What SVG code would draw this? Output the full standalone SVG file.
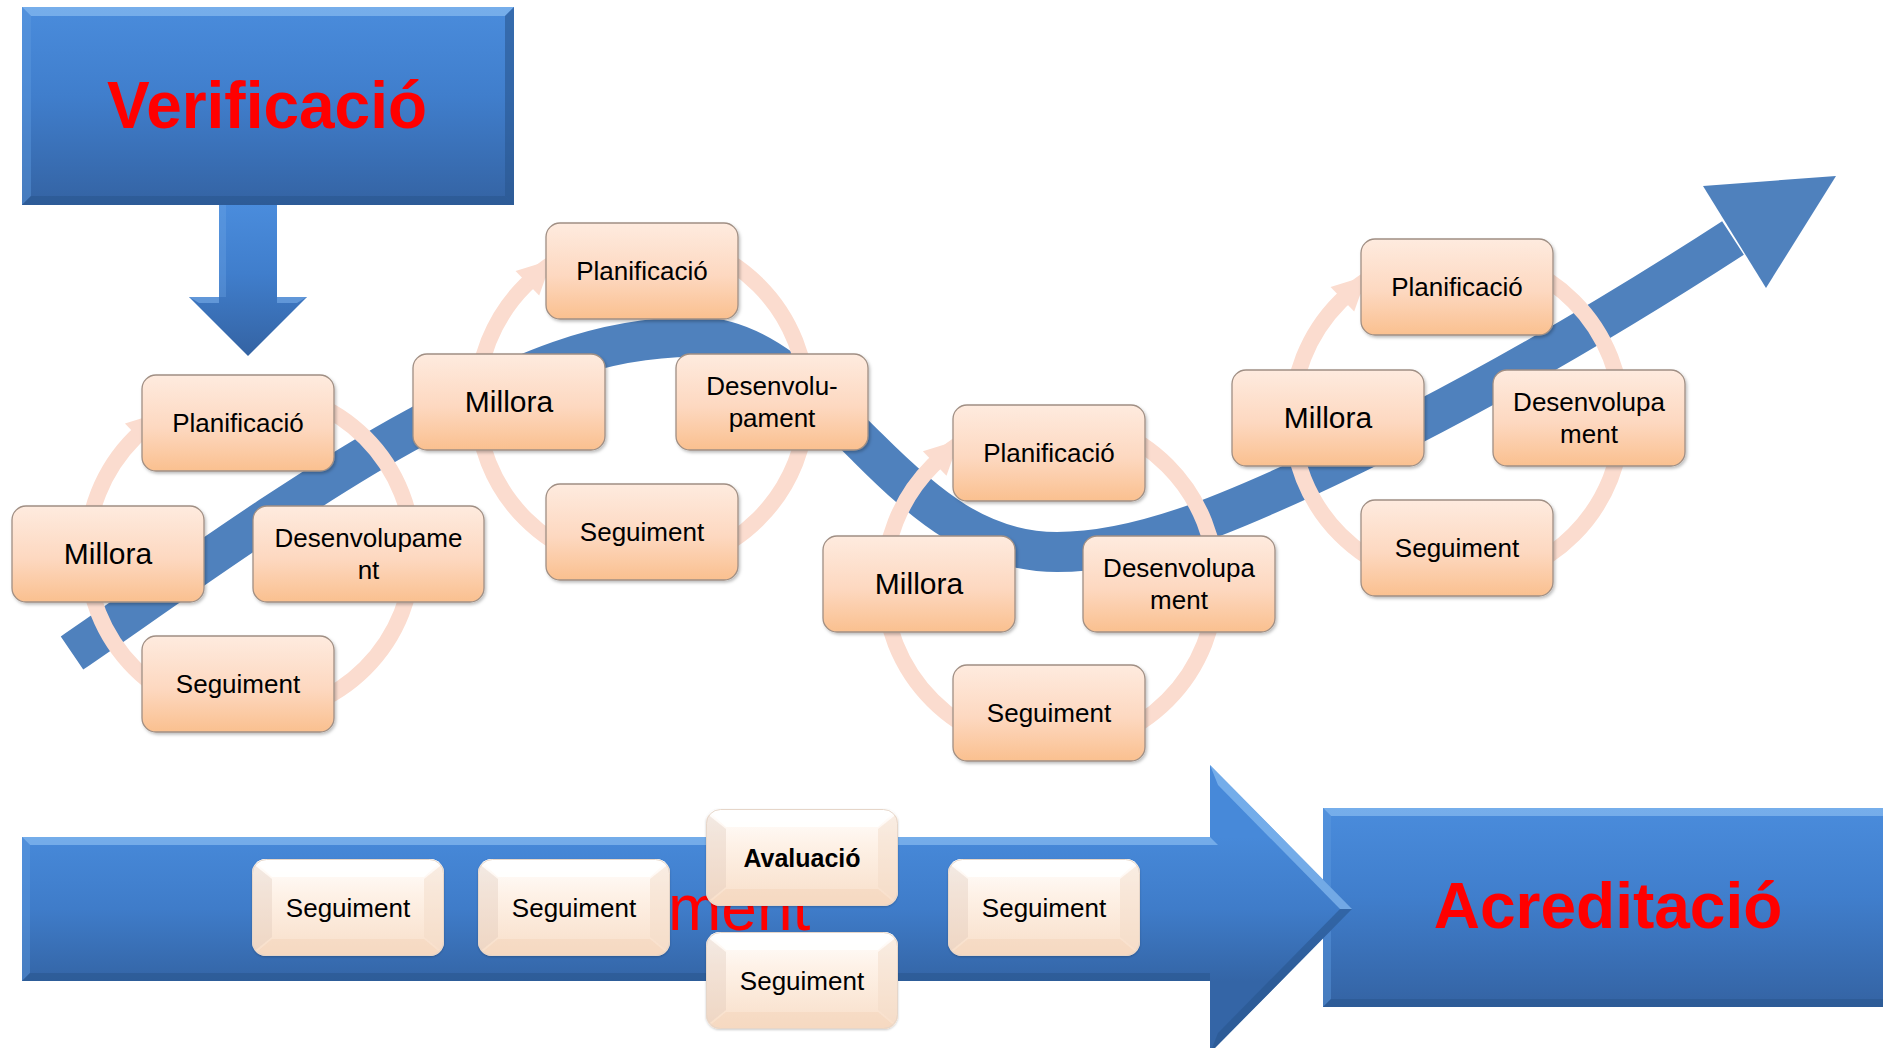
<svg xmlns="http://www.w3.org/2000/svg" width="1883" height="1048" viewBox="0 0 1883 1048">
<style>
.box{fill:url(#peach);stroke:#A08F84;stroke-width:1.3;filter:url(#sh)}
.t{font-family:'Liberation Sans',Arial,sans-serif;font-size:26px;fill:#000;text-anchor:middle}
.tm{font-size:30px}
.tb{font-weight:bold;font-size:25px}
.ring{fill:none;stroke:#FBDCCF;stroke-width:16}
.arw{fill:#FBDCCF}
.band{fill:none;stroke:#4F81BD;stroke-width:40}
.big{font-family:'Liberation Sans',Arial,sans-serif;font-weight:bold;fill:#FF0000;text-anchor:middle}
.lite{fill:#8EC0F2;opacity:0.65}
.side{fill:#5E98DE;opacity:0.45}
.dark{fill:#2A568F;opacity:0.6}
.bev{filter:url(#sh2)}
</style>
<defs>
<linearGradient id="peach" x1="0" y1="0" x2="0" y2="1">
<stop offset="0" stop-color="#FEEBDF"/><stop offset="0.55" stop-color="#FDD8C0"/><stop offset="1" stop-color="#FAC08F"/>
</linearGradient>
<linearGradient id="blueG" x1="0" y1="0" x2="0" y2="1">
<stop offset="0" stop-color="#4A8CDC"/><stop offset="0.45" stop-color="#407ECC"/><stop offset="1" stop-color="#3463A3"/>
</linearGradient>
<linearGradient id="blueArrow" gradientUnits="userSpaceOnUse" x1="0" y1="837" x2="0" y2="981">
<stop offset="0" stop-color="#4789D9"/><stop offset="0.5" stop-color="#3F7CC9"/><stop offset="1" stop-color="#3465A6"/>
</linearGradient>
<linearGradient id="cream" x1="0" y1="0" x2="0" y2="1">
<stop offset="0" stop-color="#FFFFFF"/><stop offset="0.35" stop-color="#FEF2E8"/><stop offset="1" stop-color="#F8DEC8"/>
</linearGradient>
<filter id="sh" x="-10%" y="-10%" width="130%" height="130%">
<feDropShadow dx="1.5" dy="2" stdDeviation="1.5" flood-color="#000" flood-opacity="0.25"/>
</filter>
<filter id="sh2" x="-10%" y="-10%" width="130%" height="130%">
<feDropShadow dx="0" dy="1" stdDeviation="1.2" flood-color="#000" flood-opacity="0.2"/>
</filter>
<clipPath id="bbclip"><rect x="0" y="0" width="192" height="97" rx="14"/></clipPath>
<g id="bb">
<g clip-path="url(#bbclip)">
<rect x="0" y="0" width="192" height="97" fill="url(#cream)"/>
<polygon points="0,0 192,0 172,18 20,18" fill="#FFFFFF" opacity="0.9"/>
<polygon points="0,4 20,20 20,78 0,94" fill="#DCC6B6" opacity="0.35"/>
<polygon points="192,4 172,20 172,78 192,94" fill="#F1D9C6" opacity="0.45"/>
<polygon points="0,97 20,80 172,80 192,97" fill="#F3D4BA" opacity="0.5"/>
</g>
<rect x="0.5" y="0.5" width="191" height="96" rx="14" fill="none" stroke="#E6D6C9" stroke-width="1"/>
</g>
<polygon id="ah" points="-17,0 17,0 0,34"/>
</defs>

<g id="verificacio">
<rect x="22" y="7" width="492" height="198" fill="url(#blueG)"/>
<polygon class="lite" points="22,7 514,7 505,16 31,16"/>
<polygon class="side" points="22,7 31,16 31,196 22,205"/>
<polygon class="dark" points="514,7 505,16 505,196 514,205" opacity="0.35"/>
<polygon class="dark" points="22,205 31,196 505,196 514,205"/>
<text class="big" x="267" y="128" font-size="66" textLength="320" lengthAdjust="spacingAndGlyphs">Verificació</text>
</g>

<g id="down-arrow">
<polygon points="219,205 277,205 277,297 307,297 248,356 189,297 219,297" fill="url(#blueG)"/>
<polygon points="189,297 219,297 219,303 199,303" fill="#7AAEEA" opacity="0.6"/>
<polygon points="277,297 307,297 297,303 277,303" fill="#7AAEEA" opacity="0.6"/>
<polygon points="219,205 226,205 226,297 219,297" fill="#6FA6E6" opacity="0.35"/>
</g>

<g id="acreditacio">
<rect x="1323" y="808" width="570" height="199" fill="url(#blueG)"/>
<polygon class="lite" points="1323,808 1893,808 1893,816 1331,816"/>
<polygon class="side" points="1323,808 1331,816 1331,999 1323,1007"/>
<polygon class="dark" points="1323,1007 1331,999 1893,999 1893,1007"/>
<text class="big" x="1608" y="928" font-size="64">Acreditació</text>
</g>

<g id="process-arrow">
<polygon points="22,837 1210,837 1210,765 1352,909 1210,1053 1210,981 22,981" fill="url(#blueArrow)"/>
<polygon class="lite" points="22,837 1210,837 1218,845 30,845"/>
<polygon class="lite" points="1210,765 1352,909 1340,909 1218,785" opacity="0.35"/>
<polygon class="dark" points="1352,909 1210,1053 1218,1033 1340,909" opacity="0.4"/>
<polygon class="side" points="22,837 30,845 30,973 22,981"/>
<polygon class="dark" points="22,981 30,973 1210,973 1210,981"/>
<text x="668" y="930" font-family="'Liberation Sans',Arial,sans-serif" font-size="64" fill="#FF0000">ment</text>
</g>

<g id="connectors">
<path class="band" d="M 72 653 C 150 600, 300 490, 415 428 C 520 372, 600 335, 700 337 C 760 339, 810 390, 868 448 C 926 506, 980 552, 1057 552 C 1140 552, 1230 512, 1300 480 C 1420 425, 1560 350, 1733 238"/>
<polygon points="1703,186 1836,176 1766,288" fill="#4F81BD"/>
<circle class="ring" cx="250" cy="553" r="163"/>
<use href="#ah" class="arw" transform="translate(250 553) rotate(-134) translate(163 0)"/>
<circle class="ring" cx="642" cy="402" r="165"/>
<use href="#ah" class="arw" transform="translate(642 402) rotate(-134) translate(165 0)"/>
<circle class="ring" cx="1050" cy="583" r="166"/>
<use href="#ah" class="arw" transform="translate(1050 583) rotate(-134) translate(166 0)"/>
<circle class="ring" cx="1457" cy="418" r="165"/>
<use href="#ah" class="arw" transform="translate(1457 418) rotate(-134) translate(165 0)"/>
</g>

<g id="c1-planificacio"><rect class="box" x="142" y="375" width="192" height="96" rx="14"/><text class="t" x="238" y="432">Planificació</text></g>
<g id="c1-millora"><rect class="box" x="12" y="506" width="192" height="96" rx="14"/><text class="t tm" x="108" y="564">Millora</text></g>
<g id="c1-desenvolupament"><rect class="box" x="253" y="506" width="231" height="96" rx="14"/><text class="t" x="368.5" y="547">Desenvolupame</text><text class="t" x="368.5" y="579">nt</text></g>
<g id="c1-seguiment"><rect class="box" x="142" y="636" width="192" height="96" rx="14"/><text class="t" x="238" y="693">Seguiment</text></g>

<g id="c2-planificacio"><rect class="box" x="546" y="223" width="192" height="96" rx="14"/><text class="t" x="642" y="280">Planificació</text></g>
<g id="c2-millora"><rect class="box" x="413" y="354" width="192" height="96" rx="14"/><text class="t tm" x="509" y="412">Millora</text></g>
<g id="c2-desenvolupament"><rect class="box" x="676" y="354" width="192" height="96" rx="14"/><text class="t" x="772" y="395">Desenvolu-</text><text class="t" x="772" y="427">pament</text></g>
<g id="c2-seguiment"><rect class="box" x="546" y="484" width="192" height="96" rx="14"/><text class="t" x="642" y="541">Seguiment</text></g>

<g id="c3-planificacio"><rect class="box" x="953" y="405" width="192" height="96" rx="14"/><text class="t" x="1049" y="462">Planificació</text></g>
<g id="c3-millora"><rect class="box" x="823" y="536" width="192" height="96" rx="14"/><text class="t tm" x="919" y="594">Millora</text></g>
<g id="c3-desenvolupament"><rect class="box" x="1083" y="536" width="192" height="96" rx="14"/><text class="t" x="1179" y="577">Desenvolupa</text><text class="t" x="1179" y="609">ment</text></g>
<g id="c3-seguiment"><rect class="box" x="953" y="665" width="192" height="96" rx="14"/><text class="t" x="1049" y="722">Seguiment</text></g>

<g id="c4-planificacio"><rect class="box" x="1361" y="239" width="192" height="96" rx="14"/><text class="t" x="1457" y="296">Planificació</text></g>
<g id="c4-millora"><rect class="box" x="1232" y="370" width="192" height="96" rx="14"/><text class="t tm" x="1328" y="428">Millora</text></g>
<g id="c4-desenvolupament"><rect class="box" x="1493" y="370" width="192" height="96" rx="14"/><text class="t" x="1589" y="411">Desenvolupa</text><text class="t" x="1589" y="443">ment</text></g>
<g id="c4-seguiment"><rect class="box" x="1361" y="500" width="192" height="96" rx="14"/><text class="t" x="1457" y="557">Seguiment</text></g>

<g id="b-seguiment-1"><use class="bev" href="#bb" x="252" y="859"/><text class="t" x="348" y="917">Seguiment</text></g>
<g id="b-seguiment-2"><use class="bev" href="#bb" x="478" y="859"/><text class="t" x="574" y="917">Seguiment</text></g>
<g id="b-avaluacio"><use class="bev" href="#bb" x="706" y="809"/><text class="t tb" x="802" y="867">Avaluació</text></g>
<g id="b-seguiment-3"><use class="bev" href="#bb" x="706" y="932"/><text class="t" x="802" y="990">Seguiment</text></g>
<g id="b-seguiment-4"><use class="bev" href="#bb" x="948" y="859"/><text class="t" x="1044" y="917">Seguiment</text></g>
</svg>
